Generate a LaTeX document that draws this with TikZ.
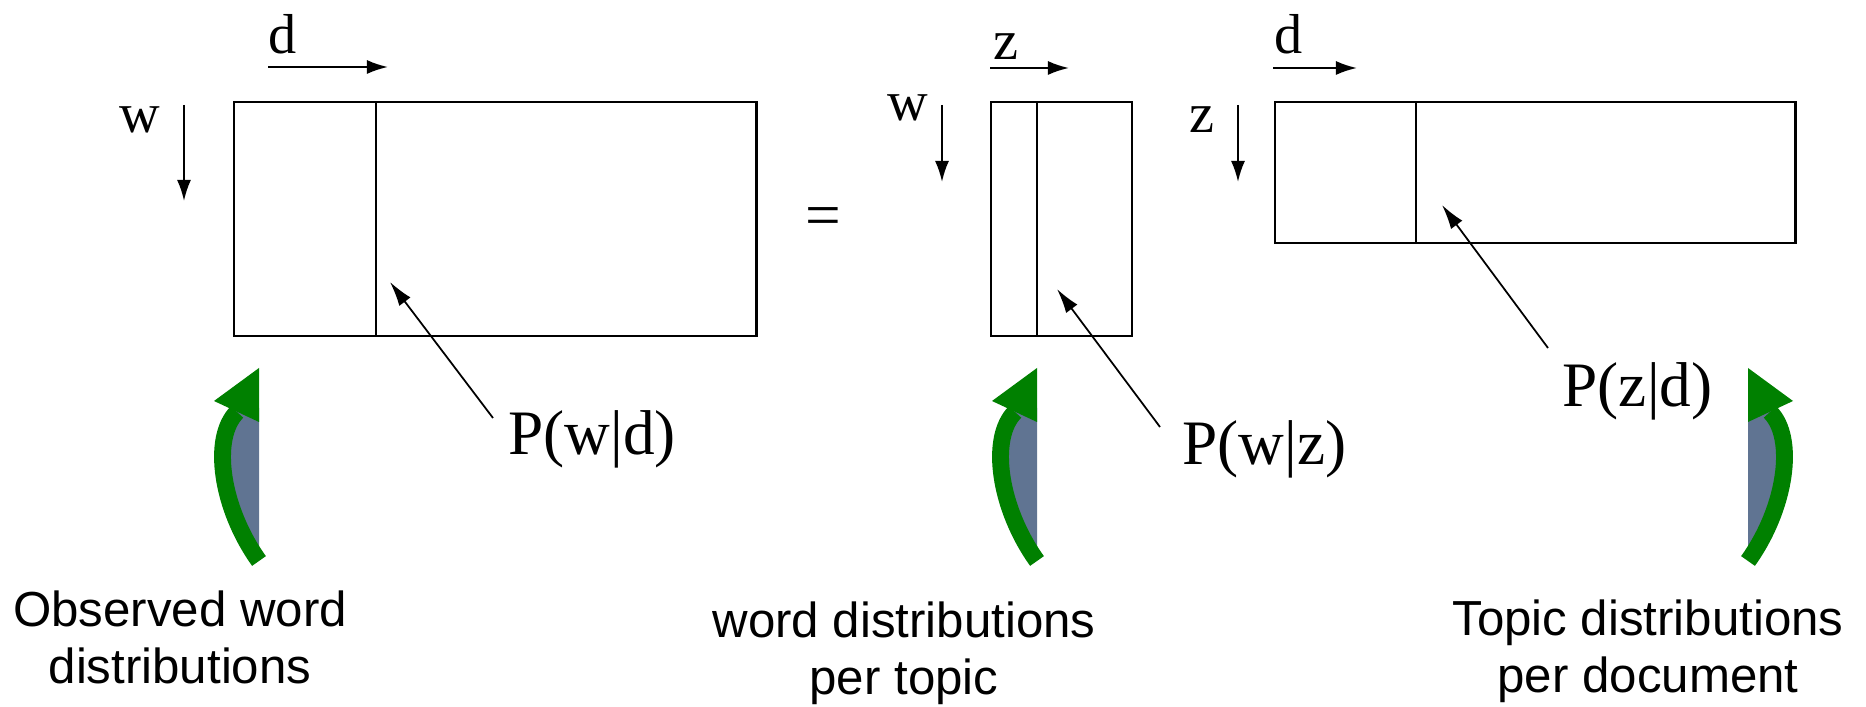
\documentclass[tikz,border=0pt]{standalone}
\usepackage{fontspec}
\setmainfont{Liberation Serif}
\setsansfont{Liberation Sans}
\usetikzlibrary{arrows.meta,positioning}

\definecolor{arrowgreen}{RGB}{0,128,0}
\definecolor{slate}{RGB}{96,116,146}

% curved green arrow, tip at (#1,368), #2 = 1 bulges left, -1 bulges right
\newcommand{\bigarrow}[2]{%
  \begin{scope}[shift={(#1,368)}, xscale=#2]
    \fill[slate] (0,193) .. controls (-38,140) and (-48,70) .. (-22,40) -- (0,40) -- cycle;
    \draw[arrowgreen, line width=4.8pt] (0,193) .. controls (-38,140) and (-48,70) .. (-22,44);
    \fill[arrowgreen] (0,0) -- (-45,33) -- (0,54) -- cycle;
  \end{scope}}

\begin{document}
\begin{tikzpicture}[x=0.01cm, y=-0.01cm,
    mat/.style={draw, line width=0.75pt, inner sep=0pt, outer sep=0pt, anchor=north west},
    idx/.style={font=\fontsize{16}{18}\selectfont, inner sep=0pt, anchor=base},
    prob/.style={font=\fontsize{18}{20}\selectfont, inner sep=0pt, anchor=base west},
    caption/.style={font=\sffamily\fontsize{14}{16.2}\selectfont, align=center, inner sep=0pt, anchor=north},
    dirarrow/.style={-{Latex[length=6pt,width=4pt]}, line width=0.6pt},
    ptr/.style={-{Latex[length=7pt,width=4pt]}, line width=0.5pt}]
  \useasboundingbox (0,0) rectangle (1866,707);

  % matrices
  \node[mat, minimum width=5.22cm, minimum height=2.34cm] (WD) at (234,102) {};
  \node[mat, minimum width=1.41cm, minimum height=2.34cm] (WZ) at (991,102) {};
  \node[mat, minimum width=5.20cm, minimum height=1.41cm] (ZD) at (1275,102) {};
  \draw[line width=0.75pt] ([xshift=1.42cm]WD.north west) -- ([xshift=1.42cm]WD.south west);
  \draw[line width=0.75pt] ([xshift=0.46cm]WZ.north west) -- ([xshift=0.46cm]WZ.south west);
  \draw[line width=0.75pt] ([xshift=1.41cm]ZD.north west) -- ([xshift=1.41cm]ZD.south west);

  \node[prob, anchor=center] (eq) at (823,222) {=};

  % index labels and directions
  \node[idx] (d1) at (283,54) {d};
  \node[idx] (w1) at (140,133) {w};
  \node[idx] (z2) at (1006,60) {z};
  \node[idx] (w2) at (908,121) {w};
  \node[idx] (d3) at (1289,54) {d};
  \node[idx] (z3) at (1202,133) {z};

  \coordinate (d1s) at (268,67);  \coordinate (d1e) at (388,67);
  \coordinate (w1s) at (184,105); \coordinate (w1e) at (184,201);
  \coordinate (z2s) at (990,68);  \coordinate (z2e) at (1069,68);
  \coordinate (w2s) at (942,105); \coordinate (w2e) at (942,182);
  \coordinate (d3s) at (1273,68); \coordinate (d3e) at (1357,68);
  \coordinate (z3s) at (1238,105); \coordinate (z3e) at (1238,182);
  \foreach \a in {d1,w1,z2,w2,d3,z3}
    \draw[dirarrow] (\a s) -- (\a e);

  % probability labels
  \node[prob] (Pwd) at (508,455) {P(w|d)};
  \node[prob] (Pwz) at (1182,465) {P(w|z)};
  \node[prob] (Pzd) at (1562,407) {P(z|d)};
  \coordinate (Pwdtail) at (493,418); \coordinate (Pwdtip) at (390,282);
  \coordinate (Pwztail) at (1160,427); \coordinate (Pwztip) at (1057,289);
  \coordinate (Pzdtail) at (1548,348); \coordinate (Pzdtip) at (1442,205);
  \draw[ptr] (Pwdtail) -- (Pwdtip);
  \draw[ptr] (Pwztail) -- (Pwztip);
  \draw[ptr] (Pzdtail) -- (Pzdtip);

  % green arrows
  \bigarrow{259}{1}
  \bigarrow{1037}{1}
  \bigarrow{1748}{-1}

  % captions
  \node[caption] (obs) at (180,590) {Observed word\\distributions};
  \node[caption] (wpt) at (904,601) {word distributions\\per topic};
  \node[caption] (tpd) at (1648,599) {Topic distributions\\per document};
\end{tikzpicture}
\end{document}
